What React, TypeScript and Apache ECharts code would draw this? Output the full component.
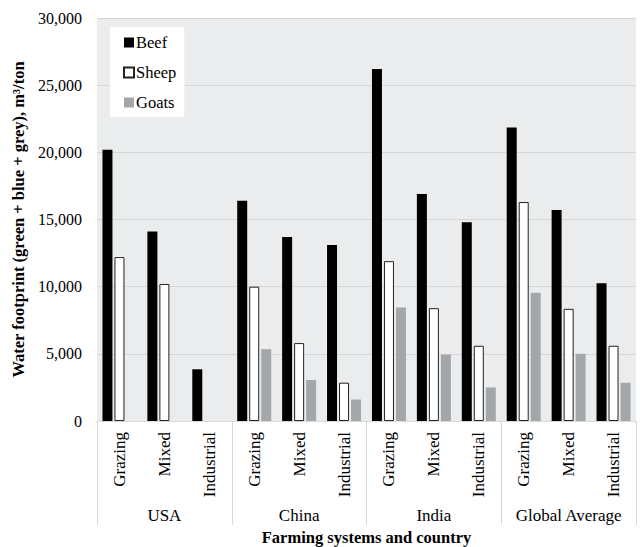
import React, { useEffect, useRef } from "react";
import * as echarts from "echarts";

const systems = ["Grazing", "Mixed", "Industrial", "Grazing", "Mixed", "Industrial", "Grazing", "Mixed", "Industrial", "Grazing", "Mixed", "Industrial"];
const countries = ["USA", "China", "India", "Global Average"];
const beef = [20200, 14100, 3850, 16400, 13700, 13100, 26200, 16900, 14800, 21850, 15700, 10250];
const sheep = [12200, 10200, null, 10000, 5800, 2850, 11900, 8400, 5600, 16300, 8350, 5600];
const goats = [null, null, null, 5350, 3050, 1600, 8450, 4950, 2500, 9550, 5000, 2850];
const yTicks = { min: 0, max: 30000, interval: 5000 };

const FONT = "Liberation Serif";

export default function App() {
  const ref = useRef<HTMLDivElement>(null);
  useEffect(() => {
    const chart = echarts.init(ref.current!, undefined, { renderer: "svg" });
    chart.setOption({
      animation: false,
      textStyle: { fontFamily: FONT, color: "#000" },
      grid: {
        left: 97, right: 4, top: 18, bottom: 126,
        show: true, backgroundColor: "#ebeced", borderWidth: 0,
        containLabel: false, outerBoundsMode: "none",
      },
      legend: {
        orient: "vertical",
        left: 110,
        top: 27,
        backgroundColor: "#ffffff",
        padding: [7, 8, 6, 13],
        itemWidth: 10,
        itemHeight: 10,
        itemGap: 13,
        icon: "rect",
        textStyle: { fontFamily: FONT, fontSize: 16.5, color: "#000", padding: [0, 0, 0, -3] },
        data: ["Beef", "Sheep", "Goats"],
      },
      xAxis: [
        {
          type: "category",
          data: systems,
          position: "bottom",
          axisLine: { show: true, lineStyle: { color: "#d9d9d9" } },
          axisTick: { show: false },
          axisLabel: { rotate: 90, interval: 0, fontFamily: FONT, fontSize: 17, color: "#000", margin: 11 },
        },
        {
          type: "category",
          data: countries,
          position: "bottom",
          axisLine: { show: true, lineStyle: { color: "#d9d9d9" } },
          axisTick: { show: true, length: 104, lineStyle: { color: "#d9d9d9" } },
          axisLabel: { interval: 0, fontFamily: FONT, fontSize: 17, color: "#000", margin: 86 },
          name: "Farming systems and country",
          nameLocation: "middle",
          nameGap: 107,
          nameTextStyle: { fontFamily: FONT, fontSize: 16.5, fontWeight: "bold", color: "#000" },
        },
      ],
      yAxis: {
        type: "value",
        min: yTicks.min,
        max: yTicks.max,
        interval: yTicks.interval,
        axisLine: { show: false },
        axisTick: { show: false },
        splitLine: { lineStyle: { color: "#d5d6d7", width: 1 } },
        axisLabel: {
          fontFamily: FONT,
          fontSize: 16,
          color: "#000",
          margin: 15,
          formatter: (v: number) => v.toString().replace(/\B(?=(\d{3})+(?!\d))/g, ","),
        },
        name: "Water footprint (green + blue + grey), m³/ton",
        nameLocation: "middle",
        nameGap: 69,
        nameTextStyle: { fontFamily: FONT, fontSize: 16.5, fontWeight: "bold", color: "#000" },
      },
      series: [
        { name: "Beef", type: "bar", data: beef, barWidth: 10, barGap: "20%", itemStyle: { color: "#000000" } },
        { name: "Sheep", type: "bar", data: sheep, barWidth: 10, barGap: "20%", itemStyle: { color: "#ffffff", borderColor: "#222222", borderWidth: 1 } },
        { name: "Goats", type: "bar", data: goats, barWidth: 10, barGap: "20%", itemStyle: { color: "#a4a7aa" } },
      ],
    });
    return () => chart.dispose();
  }, []);
  return <div ref={ref} style={{ width: 640, height: 547, position: "absolute", left: 0, top: 0 }} />;
}
